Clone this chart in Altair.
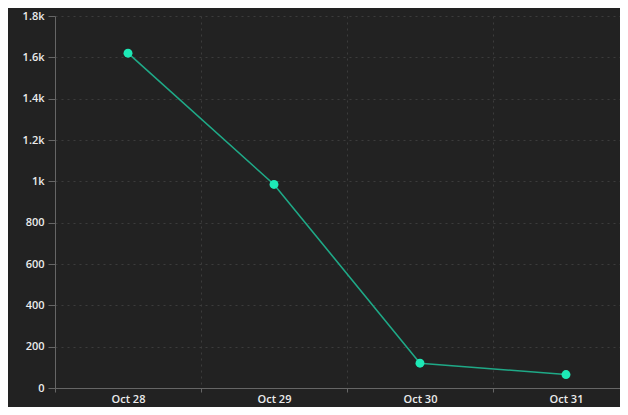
import altair as alt
import pandas as pd

dates = ["Oct 28", "Oct 29", "Oct 30", "Oct 31"]
values = [1620, 985, 120, 65]

df = pd.DataFrame({"idx": list(range(len(dates))), "date": dates, "value": values})

label_expr = "[" + ",".join("'" + d + "'" for d in dates) + "][datum.value]"
y_label_expr = ("datum.value >= 1000 ? format(datum.value / 1000, '~r') + 'k' "
                ": format(datum.value, 'd')")

x_scale = alt.Scale(domain=[-0.5, 3.37], nice=False, zero=False)
y_scale = alt.Scale(domain=[0, 1800], nice=False)

y_axis = alt.Axis(
    values=list(range(0, 1801, 200)), labelExpr=y_label_expr, title=None,
    grid=True, gridColor="#3c3c3c", gridDash=[2, 4], gridWidth=1,
    domainColor="#666666", tickColor="#666666", tickSize=7,
    labelColor="#ececec", labelFont="Open Sans", labelFontSize=11,
    labelFontWeight=600, labelPadding=4,
)

line = alt.Chart(df).mark_line(color="#1fa987", strokeWidth=1.6).encode(
    x=alt.X("idx:Q", scale=x_scale, axis=alt.Axis(
        values=[-0.5, 0.5, 1.5, 2.5], labels=False, title=None, orient="bottom",
        grid=True, gridColor="#3c3c3c", gridDash=[2, 4], gridWidth=1,
        domainColor="#666666", tickColor="#666666", tickSize=4)),
    y=alt.Y("value:Q", scale=y_scale, axis=y_axis),
)

points = alt.Chart(df).mark_circle(color="#1de9b6", opacity=1, size=80).encode(
    x=alt.X("idx:Q", scale=x_scale, axis=alt.Axis(
        values=[0, 1, 2, 3], labelExpr=label_expr, title=None, orient="bottom",
        grid=False, ticks=False, domain=False,
        labelColor="#ececec", labelFont="Open Sans", labelFontSize=11,
        labelFontWeight=600, labelPadding=5)),
    y=alt.Y("value:Q", scale=y_scale, axis=y_axis),
)

chart = alt.layer(line, points).resolve_axis(x="independent").properties(
    width=565, height=372, background="#222222",
    autosize=alt.AutoSizeParams(type="none"),
    padding={"left": 47, "top": 8, "right": 0, "bottom": 19},
).configure_view(stroke=None)

chart.save("out.html", embed_options={"renderer": "svg", "actions": False})
